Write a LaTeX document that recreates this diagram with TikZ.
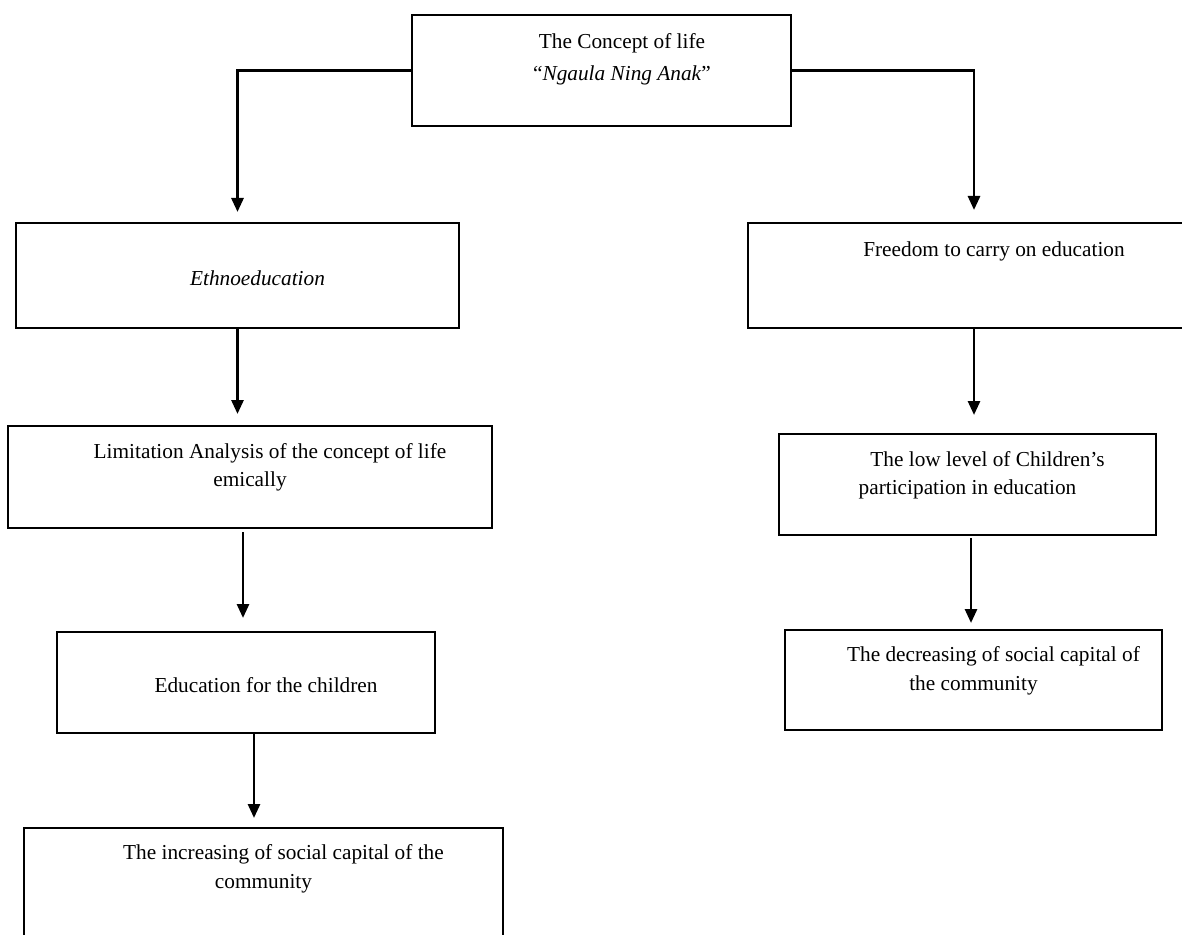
\documentclass[tikz,border=0pt]{standalone}
\usepackage{fontspec}
\setmainfont{Liberation Serif}
\usetikzlibrary{arrows.meta}
\newcommand{\firstind}{\hspace*{20pt}}

\begin{document}
\begin{tikzpicture}[x=0.5pt,y=-0.5pt,
    box/.style={draw,line width=0.9pt,inner sep=0pt,outer sep=0pt,anchor=north west},
    txt/.style={align=center,inner sep=0pt,font=\fontsize{10.65}{14.25}\selectfont},
    arr/.style={line width=1.4pt,-{Triangle[width=6pt,length=7pt]}}]
  \useasboundingbox (0,0) rectangle (1182,935);
  \clip (0,0) rectangle (1182,935);

  % boxes
  \node[box,minimum width=189.5pt,minimum height=55.5pt] (top) at (412,15) {};
  \node[box,minimum width=221.5pt,minimum height=52.5pt] (ethno) at (16,223) {};
  \node[box,minimum width=226pt,minimum height=52.5pt] (free) at (748,223) {};
  \node[box,minimum width=242pt,minimum height=51pt] (lim) at (8,426) {};
  \node[box,minimum width=188.5pt,minimum height=50.5pt] (low) at (779,434) {};
  \node[box,minimum width=189pt,minimum height=50.5pt] (edu) at (57,632) {};
  \node[box,minimum width=188.5pt,minimum height=50pt] (dec) at (785,630) {};
  \node[box,minimum width=239.5pt,minimum height=60pt] (inc) at (24,828) {};

  % texts
  \node[txt] (toptxt) at (622,59) {The Concept of life\\[1.75pt]“\textit{Ngaula Ning Anak}”};
  \node[txt] (ethnotxt) at (237.5,278) {\firstind\textit{Ethnoeducation}};
  \node[txt] (freetxt) at (974,251) {\firstind Freedom to carry on education};
  \node[txt] (limtxt) at (250,467.5) {\firstind Limitation Analysis of the concept of life\\emically};
  \node[txt] (lowtxt) at (967.5,475.5) {\firstind The low level of Children’s\\participation in education};
  \node[txt] (edutxt) at (246,685) {\firstind Education for the children};
  \node[txt] (dectxt) at (973.5,671) {\firstind The decreasing of social capital of\\the community};
  \node[txt] (inctxt) at (263.5,869) {\firstind The increasing of social capital of the\\community};

  % arrows
  \draw[arr,shorten >=5.5pt] (top.west) -| (ethno.north);
  \draw[arr,shorten >=6.5pt] (top.east) -| (free.north);
  \draw[arr,shorten >=6pt] (ethno.south) -- (ethno.south |- lim.north);
  \draw[arr,shorten <=2pt,shorten >=7pt] ([xshift=-3.5pt]lim.south) -- ([xshift=-3.5pt]lim.south |- edu.north);
  \draw[arr,shorten >=5pt] ([xshift=4pt]edu.south) -- ([xshift=4pt]edu.south |- inc.north);
  \draw[arr,shorten >=9.5pt] (free.south) -- (free.south |- low.north);
  \draw[arr,shorten <=1.5pt,shorten >=3.5pt] ([xshift=1.75pt]low.south) -- ([xshift=1.75pt]low.south |- dec.north);
\end{tikzpicture}
\end{document}
